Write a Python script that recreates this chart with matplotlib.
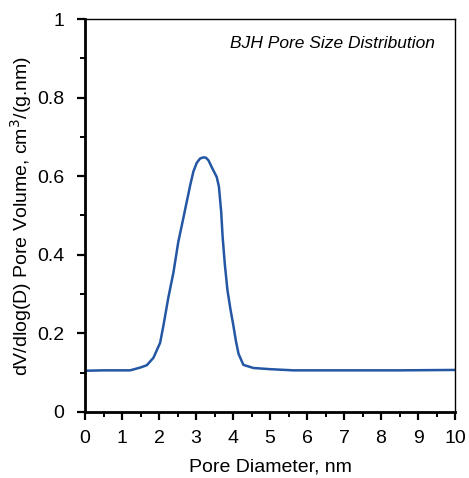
import numpy as np
import matplotlib
matplotlib.use("Agg")
import matplotlib.pyplot as plt
from matplotlib.ticker import MultipleLocator

plt.rcParams['font.family'] = ['Liberation Sans', 'DejaVu Sans']

# BJH pore size distribution
pore_diameter = [0.0, 0.5, 1.0, 1.22, 1.49, 1.67, 1.85, 2.03, 2.12, 2.25, 2.39,
                 2.52, 2.65, 2.75, 2.85, 2.93, 3.02, 3.11, 3.2, 3.27, 3.34,
                 3.43, 3.56, 3.62, 3.68, 3.72, 3.78, 3.85, 3.93, 4.01, 4.08,
                 4.15, 4.28, 4.55, 5.0, 5.63, 7.0, 8.5, 10.0]
dv_dlogd = [0.105, 0.106, 0.106, 0.106, 0.113, 0.119, 0.138, 0.176, 0.220,
            0.290, 0.355, 0.432, 0.490, 0.535, 0.580, 0.612, 0.634, 0.645,
            0.648, 0.647, 0.640, 0.622, 0.598, 0.573, 0.510, 0.445, 0.375,
            0.310, 0.262, 0.220, 0.180, 0.148, 0.120, 0.112, 0.109, 0.106,
            0.106, 0.106, 0.107]

fig = plt.figure(figsize=(4.69, 4.78), dpi=100)
ax = fig.add_axes([85 / 469, 1 - 412 / 478, 370 / 469, 393 / 478])

ax.plot(pore_diameter, dv_dlogd, color='#2356a3', linewidth=1.8)

ax.set_xlim(0, 10)
ax.set_ylim(0, 1)
ax.xaxis.set_major_locator(MultipleLocator(1))
ax.xaxis.set_minor_locator(MultipleLocator(0.5))
ax.yaxis.set_minor_locator(MultipleLocator(0.1))
ax.set_yticks([0, 0.2, 0.4, 0.6, 0.8, 1.0])
ax.set_yticklabels(['0', '0.2', '0.4', '0.6', '0.8', '1'])

ax.tick_params(which='major', direction='out', length=6, width=1.6,
               labelsize=14, colors='black')
ax.tick_params(axis='x', which='major', pad=7)
ax.tick_params(axis='y', which='major', pad=9)
ax.tick_params(which='minor', direction='out', length=3.5, width=1.4)
ax.tick_params(top=False, right=False, which='both')

for side in ['left', 'bottom']:
    ax.spines[side].set_linewidth(2)
for side in ['top', 'right']:
    ax.spines[side].set_linewidth(1)

ax.set_xlabel('Pore Diameter, nm', fontsize=14, labelpad=8)
ax.set_ylabel('dV/dlog(D) Pore Volume, cm$^3$/(g.nm)', fontsize=14, labelpad=2)
ax.text(0.946, 0.925, 'BJH Pore Size Distribution', transform=ax.transAxes,
        ha='right', va='baseline', fontsize=12.5, style='italic')

fig.savefig('out.png', dpi=100)
